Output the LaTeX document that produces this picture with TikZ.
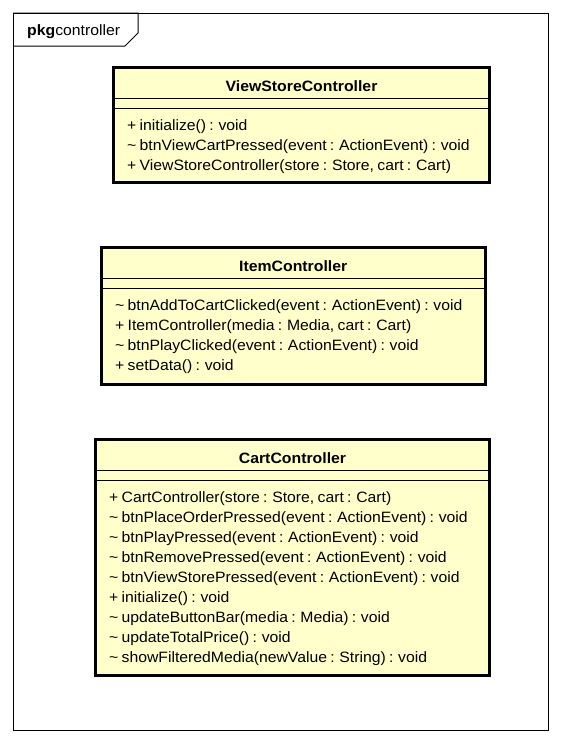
\documentclass[tikz,border=0pt]{standalone}
\usepackage{fontspec}
\setmainfont{Liberation Sans}[FakeStretch=1.05,WordSpace=0.75,BoldFeatures={FakeStretch=1.055}]
\definecolor{classfill}{RGB}{255,255,204}
\tikzset{
  classbox/.style={draw=black, line width=3pt, fill=classfill, rectangle, inner sep=0pt, outer sep=0pt, anchor=north west},
  classtitle/.style={font=\fontsize{15}{17}\selectfont\bfseries, inner sep=0pt, anchor=base},
  member/.style={font=\fontsize{15}{17}\selectfont, inner sep=0pt, anchor=base west},
  compline/.style={line width=1pt},
  pkgframe/.style={line width=1pt}
}
\newcommand{\tld}{\textasciitilde}
\begin{document}
\begin{tikzpicture}[x=1pt,y=-1pt]
\useasboundingbox (0,0) rectangle (561,744);
% package frame
\draw[pkgframe] (13,13) rectangle (548.5,730.5);
\draw[pkgframe] (13,13) -- (138,13) -- (138,33) -- (125,46) -- (13,46);
\node[anchor=base west, inner sep=0pt, font=\fontsize{15}{17}\selectfont] (pkglabel) at (27,35) {\textbf{pkg}controller};

% ViewStoreController
\node[classbox, minimum width=376pt, minimum height=115pt] (vs) at (113.5,67.5) {};
\draw[compline] ([yshift=-30.5pt]vs.north west) -- ([yshift=-30.5pt]vs.north east);
\draw[compline] ([yshift=-41pt]vs.north west) -- ([yshift=-41pt]vs.north east);
\node[classtitle] (vst) at (301.5,91) {ViewStoreController};
\foreach \t [count=\i] in {%
  {+ initialize() : void},
  {\tld{} btnViewCartPressed(event : ActionEvent) : void},
  {+ ViewStoreController(store : Store, cart : Cart)}}
  \node[member] (vsm\i) at (127,{130.5+20*(\i-1)}) {\t};

% ItemController
\node[classbox, minimum width=383.5pt, minimum height=136.5pt] (ic) at (101.5,247.5) {};
\draw[compline] ([yshift=-30.5pt]ic.north west) -- ([yshift=-30.5pt]ic.north east);
\draw[compline] ([yshift=-41pt]ic.north west) -- ([yshift=-41pt]ic.north east);
\node[classtitle] (ict) at (293.25,271) {ItemController};
\foreach \t [count=\i] in {%
  {\tld{} btnAddToCartClicked(event : ActionEvent) : void},
  {+ ItemController(media : Media, cart : Cart)},
  {\tld{} btnPlayClicked(event : ActionEvent) : void},
  {+ setData() : void}}
  \node[member] (icm\i) at (115,{310.5+20*(\i-1)}) {\t};

% CartController
\node[classbox, minimum width=394pt, minimum height=235.5pt] (cc) at (95.5,439.5) {};
\draw[compline] ([yshift=-30.5pt]cc.north west) -- ([yshift=-30.5pt]cc.north east);
\draw[compline] ([yshift=-41pt]cc.north west) -- ([yshift=-41pt]cc.north east);
\node[classtitle] (cct) at (292.5,463) {CartController};
\foreach \t [count=\i] in {%
  {+ CartController(store : Store, cart : Cart)},
  {\tld{} btnPlaceOrderPressed(event : ActionEvent) : void},
  {\tld{} btnPlayPressed(event : ActionEvent) : void},
  {\tld{} btnRemovePressed(event : ActionEvent) : void},
  {\tld{} btnViewStorePressed(event : ActionEvent) : void},
  {+ initialize() : void},
  {\tld{} updateButtonBar(media : Media) : void},
  {\tld{} updateTotalPrice() : void},
  {\tld{} showFilteredMedia(newValue : String) : void}}
  \node[member] (ccm\i) at (109,{502.5+20*(\i-1)}) {\t};
\end{tikzpicture}
\end{document}
